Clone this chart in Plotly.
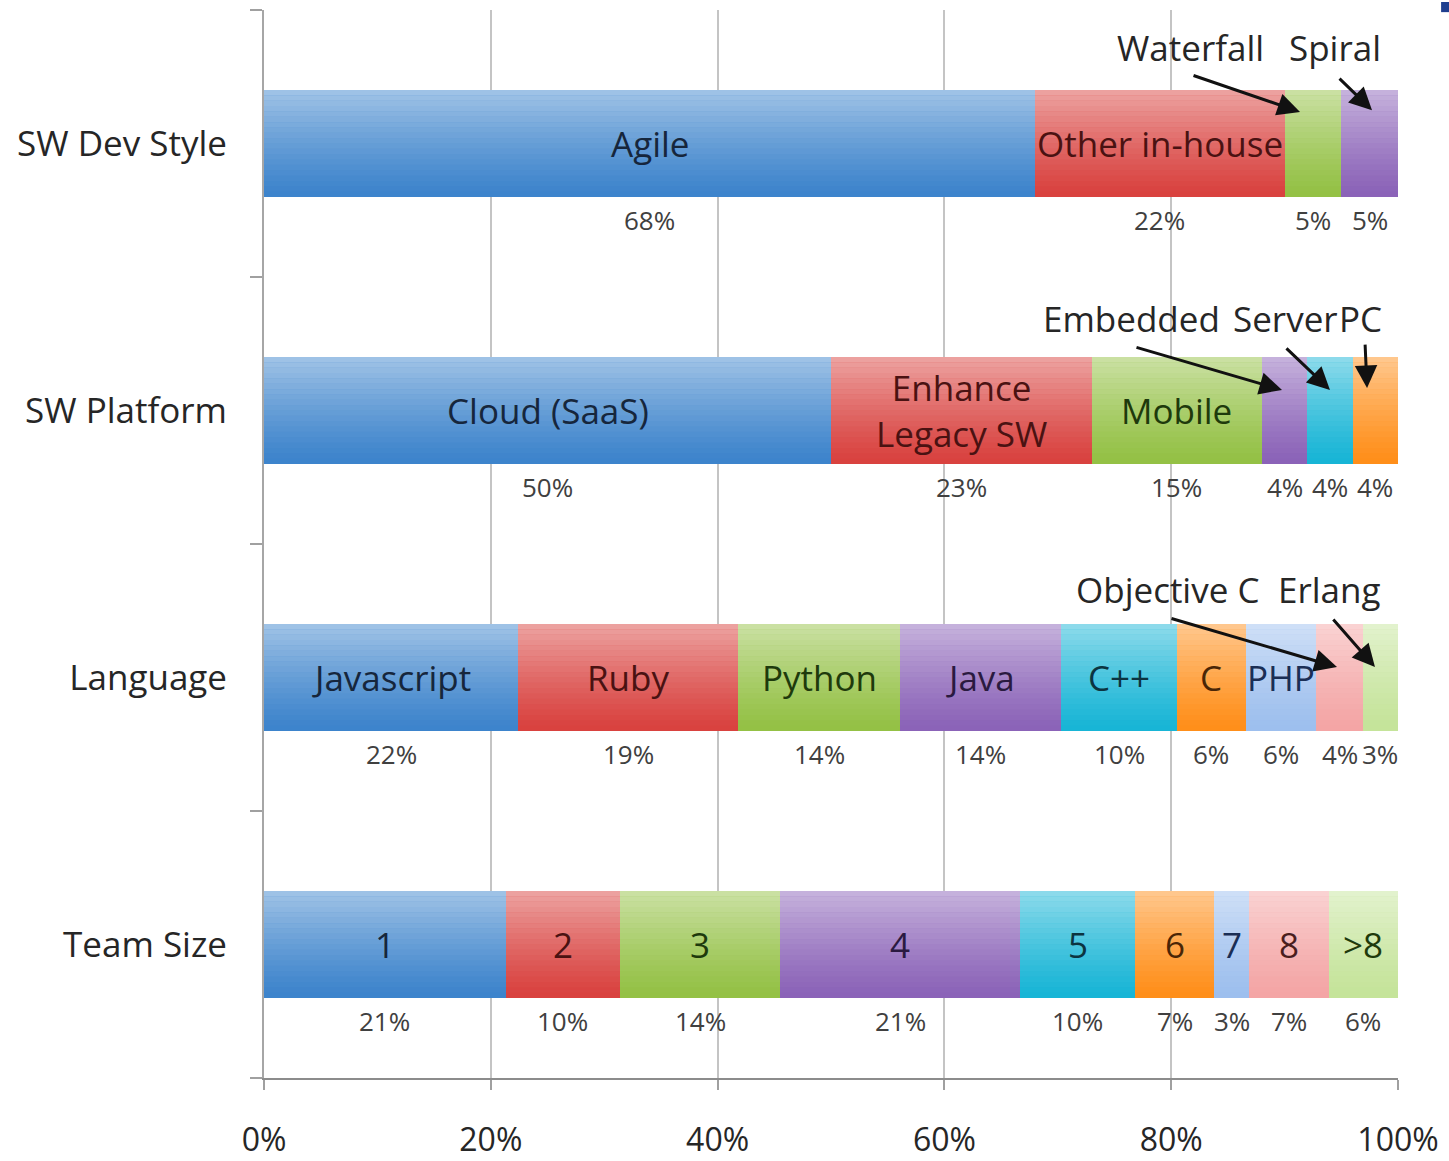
import plotly.graph_objects as go

# ---------------- data ----------------
categories = ["Team Size", "Language", "SW Platform", "SW Dev Style"]  # bottom -> top

dev_labels = ["Agile", "Other in-house", "Waterfall", "Spiral"]
dev_values = [68, 22, 5, 5]

platform_labels = ["Cloud (SaaS)", "Enhance Legacy SW", "Mobile", "Embedded", "Server", "PC"]
platform_values = [50, 23, 15, 4, 4, 4]

language_labels = ["Javascript", "Ruby", "Python", "Java", "C++", "C", "PHP", "Objective C", "Erlang"]
language_values = [22.4, 19.4, 14.3, 14.2, 10.2, 6.1, 6.2, 4.1, 3.1]

team_labels = ["1", "2", "3", "4", "5", "6", "7", "8", ">8"]
team_values = [21.3, 10.1, 14.1, 21.2, 10.1, 7.0, 3.1, 7.0, 6.1]

x_ticks = [0, 20, 40, 60, 80, 100]
x_ticktext = ["0%", "20%", "40%", "60%", "80%", "100%"]

# segments that are labelled with a callout arrow instead of inside text
callout_names = ["Waterfall", "Spiral", "Embedded", "Server", "PC", "Objective C", "Erlang"]

# ---------------- style ----------------
palette = ["#3D84CC", "#D9423F", "#94C145", "#8B63B8", "#18B5D6", "#FF8F1A",
           "#9DBFEE", "#F4A5A5", "#C5E49A"]
text_palette = ["#16263C", "#4A1212", "#1E3A0C", "#2A1A40", "#0C3440", "#4A2606",
                "#1A2E55", "#4A1E1E", "#1E3A0C"]
FONT = "Open Sans"
BAR_W = 0.4

rows = [
    (team_labels, team_values),
    (language_labels, language_values),
    (platform_labels, platform_values),
    (dev_labels, dev_values),
]

fig = go.Figure()
annotations = []

for c, (labels, values) in enumerate(rows):
    base = 0
    for i, (lab, v) in enumerate(zip(labels, values)):
        fig.add_trace(go.Bar(
            y=[c], x=[v], orientation="h", width=BAR_W,
            marker=dict(color=palette[i], line=dict(width=0)),
            showlegend=False, hoverinfo="skip", name=lab,
        ))
        centre = base + v / 2
        # percentage label below the bar
        annotations.append(dict(
            x=centre, y=c - 0.287, xref="x", yref="y", text=f"{round(v)}%",
            showarrow=False, font=dict(family=FONT, size=26, color="#404040"),
        ))
        # inside label
        if lab not in callout_names:
            annotations.append(dict(
                x=centre, y=c, xref="x", yref="y",
                text=lab.replace("Enhance ", "Enhance<br>"),
                showarrow=False, font=dict(family=FONT, size=35, color=text_palette[i]),
            ))
        base += v

# callouts: (text, text_x, text_y, head_x, head_y, ax_px, ay_px)
callouts = [
    ("Waterfall", 81.66, 3.361, 91.36, 3.118, -108, -37),
    ("Spiral", 94.44, 3.361, 97.71, 3.125, -34, -33),
    ("Embedded", 76.54, 2.346, 89.77, 2.077, -147, -43),
    ("Server", 90.04, 2.346, 94.0, 2.077, -45, -43),
    ("PC", 96.65, 2.346, 97.27, 2.084, -2, -45),
    ("Objective C", 79.63, 1.328, 94.62, 1.039, -167, -49),
    ("Erlang", 94.0, 1.328, 97.97, 1.039, -43, -49),
]
for txt, tx, ty, hx, hy, ax, ay in callouts:
    annotations.append(dict(
        x=tx, y=ty, xref="x", yref="y", text=txt, showarrow=False,
        font=dict(family=FONT, size=35, color="#262626"),
    ))
    annotations.append(dict(
        x=hx, y=hy, xref="x", yref="y", text="", showarrow=True,
        ax=ax, ay=ay, arrowhead=2, arrowsize=1.5, arrowwidth=3, arrowcolor="#111111",
    ))

# glossy gradient overlay on each bar row
shapes = []
n_strips = 20
for c in range(len(rows)):
    top = c + BAR_W / 2
    h = BAR_W / n_strips
    for k in range(n_strips):
        a = 0.5 * (1 - k / (n_strips - 1)) ** 1.2
        shapes.append(dict(
            type="rect", xref="x", yref="y", x0=0, x1=100,
            y0=top - k * h, y1=top - (k + 1) * h,
            fillcolor=f"rgba(255,255,255,{a:.3f})", line=dict(width=0), layer="above",
        ))
# small dark-blue corner mark seen in the top-right of the original screenshot
shapes.append(dict(type="rect", xref="paper", yref="paper", x0=1.038, x1=1.05,
                   y0=0.998, y1=1.0075, fillcolor="#1F3F8F", line=dict(width=0)))

fig.update_layout(
    width=1449, height=1161,
    margin=dict(l=264, r=51, t=10, b=83),
    paper_bgcolor="white", plot_bgcolor="white",
    barmode="stack", bargap=0,
    font=dict(family=FONT, color="#262626"),
    annotations=annotations, shapes=shapes,
    xaxis=dict(
        range=[0, 100], tickvals=x_ticks, ticktext=x_ticktext,
        showgrid=True, gridcolor="#C4C4C4", gridwidth=2, zeroline=False,
        showline=True, linecolor="#8C8C8C", linewidth=2,
        ticks="outside", ticklen=10, tickwidth=2, tickcolor="#A0A0A0",
        tickfont=dict(family=FONT, size=32, color="#262626"),
        ticklabelstandoff=23, automargin=False,
    ),
    yaxis=dict(
        range=[-0.5, 3.5], tickvals=[0, 1, 2, 3], ticktext=categories,
        showgrid=False, zeroline=False,
        showline=True, linecolor="#A6A6A6", linewidth=2, ticks="",
        minor=dict(tickmode="array", tickvals=[-0.5, 0.5, 1.5, 2.5, 3.5],
                   ticks="outside", ticklen=12, tickwidth=2, tickcolor="#A0A0A0"),
        tickfont=dict(family=FONT, size=35, color="#262626"),
        ticklabelstandoff=28, automargin=False,
    ),
)

fig.write_html(
    "out.html",
    config={"displayModeBar": False, "staticPlot": True},
    post_script="document.body.style.margin='0';document.body.style.overflow='hidden';",
)
